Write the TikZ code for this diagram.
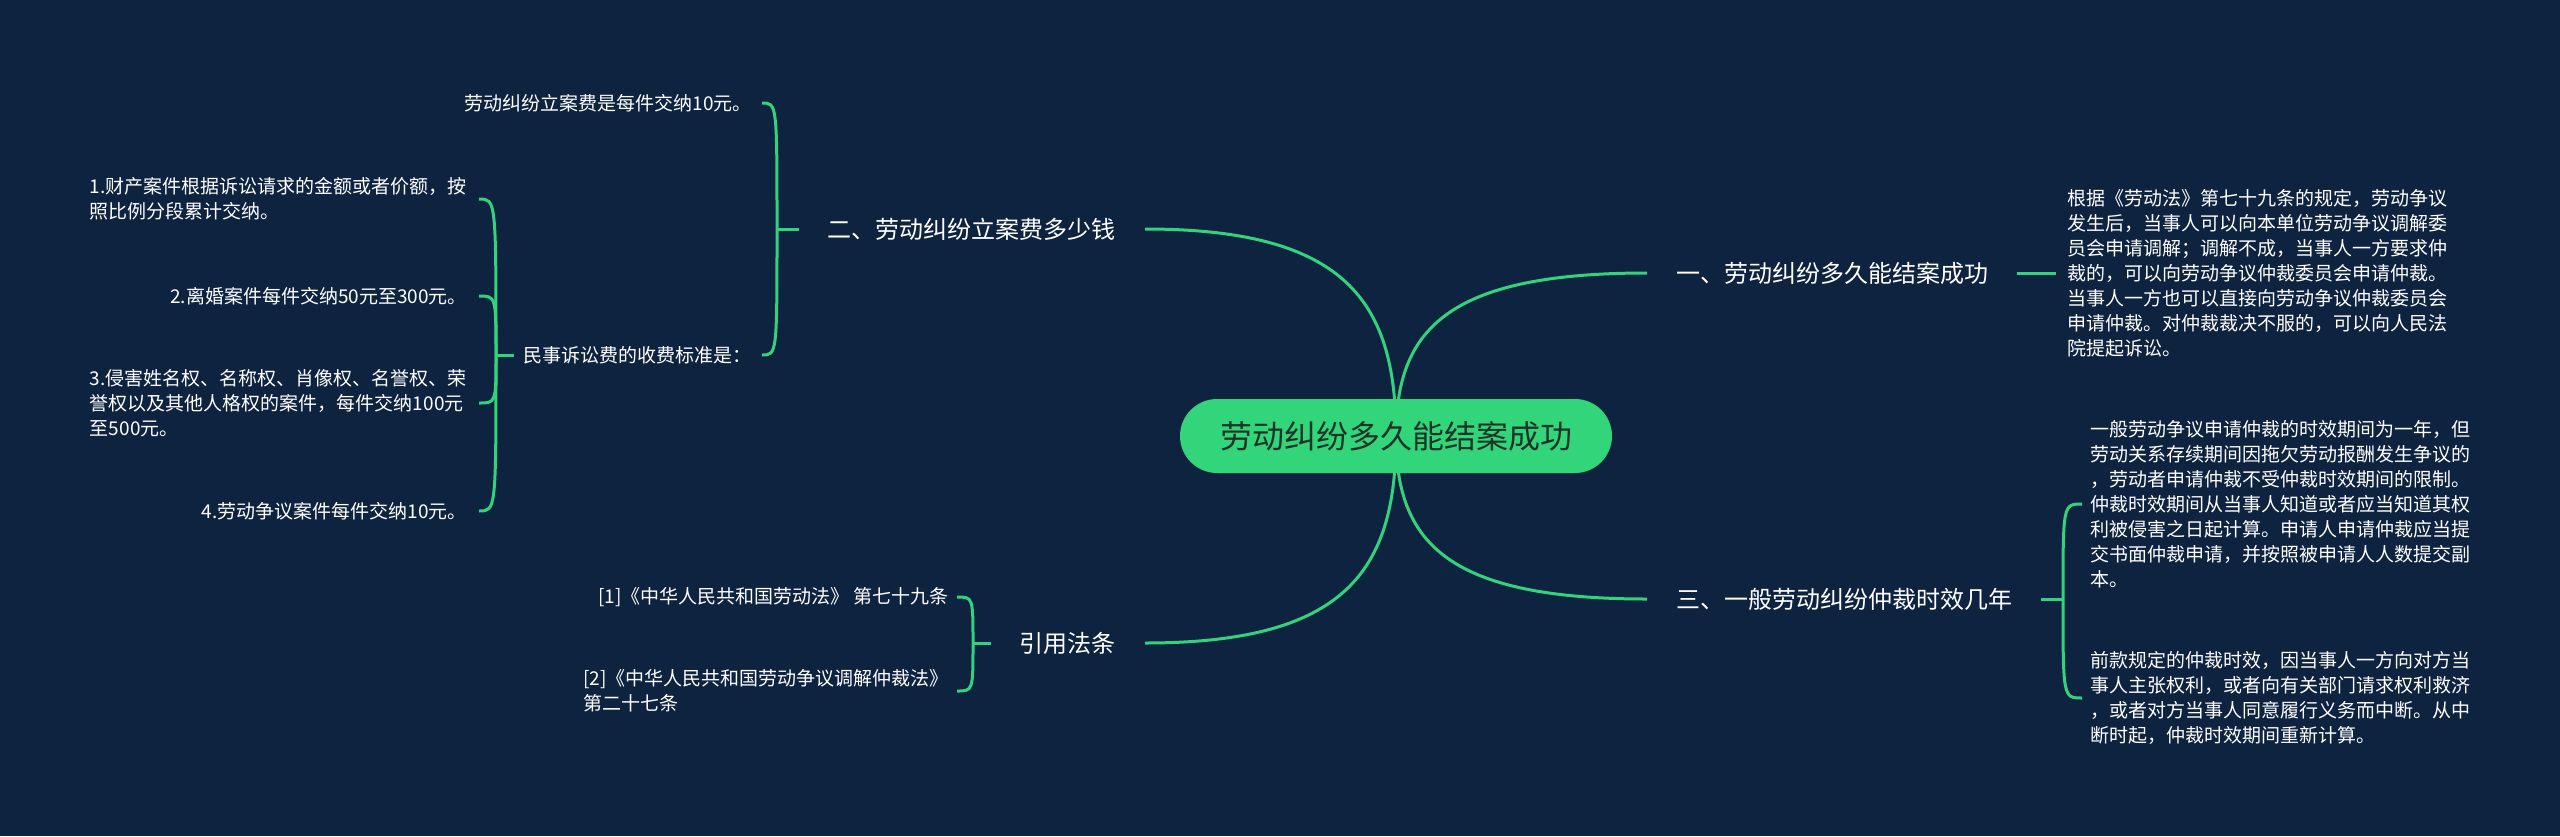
\documentclass[tikz,border=0pt]{standalone}
\usepackage{fontspec}
\setmainfont{Noto Sans CJK SC}
\usetikzlibrary{calc,backgrounds}
\definecolor{bgc}{HTML}{0E2340}
\definecolor{lnc}{HTML}{34D27C}
\definecolor{ctr}{HTML}{33D57A}
\definecolor{ctx}{HTML}{1C3327}
\begin{document}
\begin{tikzpicture}[x=1pt,y=-1pt,
  link/.style={draw=lnc,line width=3pt},
  centre/.style={shape=rectangle,rounded corners=37pt,fill=ctr,text=ctx,minimum width=432pt,minimum height=74pt,inner sep=0pt,font=\fontsize{32pt}{38pt}\selectfont},
  br/.style={font=\fontsize{24pt}{28pt}\selectfont,text=white,inner xsep=29pt,inner ysep=0pt},
  lf/.style={font=\fontsize{19pt}{25pt}\selectfont,text=white,inner ysep=0pt,align=left},
]
\useasboundingbox (0,0) rectangle (2560,836);

% centre
\node[centre] (c) at (1396,436) {劳动纠纷多久能结案成功};

% branches
\node[br,anchor=west] (b1) at (1647,273) {一、劳动纠纷多久能结案成功};
\node[br,anchor=east] (b2) at (1145,229) {二、劳动纠纷立案费多少钱};
\node[br,anchor=west] (b3) at (1647,599) {三、一般劳动纠纷仲裁时效几年};
\node[br,anchor=east] (b4) at (1145,643) {引用法条};

% branch 1 leaf
\node[lf,anchor=west,inner xsep=11pt] (l1) at (2056,273) {根据《劳动法》第七十九条的规定，劳动争议\\发生后，当事人可以向本单位劳动争议调解委\\员会申请调解；调解不成，当事人一方要求仲\\裁的，可以向劳动争议仲裁委员会申请仲裁。\\当事人一方也可以直接向劳动争议仲裁委员会\\申请仲裁。对仲裁裁决不服的，可以向人民法\\院提起诉讼。};

% branch 3 leaves
\coordinate (k3) at (2063,599);
\node[lf,anchor=west,inner xsep=8pt] (l3a) at (2082,504) {一般劳动争议申请仲裁的时效期间为一年，但\\劳动关系存续期间因拖欠劳动报酬发生争议的\\，劳动者申请仲裁不受仲裁时效期间的限制。\\仲裁时效期间从当事人知道或者应当知道其权\\利被侵害之日起计算。申请人申请仲裁应当提\\交书面仲裁申请，并按照被申请人人数提交副\\本。};
\node[lf,anchor=west,inner xsep=8pt] (l3b) at (2082,698) {前款规定的仲裁时效，因当事人一方向对方当\\事人主张权利，或者向有关部门请求权利救济\\，或者对方当事人同意履行义务而中断。从中\\断时起，仲裁时效期间重新计算。};

% branch 2 leaves
\coordinate (k2) at (777,229);
\node[lf,anchor=east,inner xsep=10pt] (m1) at (762,103) {劳动纠纷立案费是每件交纳10元。};
\node[lf,anchor=east,inner xsep=10pt] (m2) at (762,355) {民事诉讼费的收费标准是：};
\coordinate (k5) at (496,355);
\node[lf,anchor=east,inner xsep=12pt] (n1) at (479,199) {1.财产案件根据诉讼请求的金额或者价额，按\\照比例分段累计交纳。};
\node[lf,anchor=east,inner xsep=12pt] (n2) at (479,296) {2.离婚案件每件交纳50元至300元。};
\node[lf,anchor=east,inner xsep=12pt] (n3) at (479,403) {3.侵害姓名权、名称权、肖像权、名誉权、荣\\誉权以及其他人格权的案件，每件交纳100元\\至500元。};
\node[lf,anchor=east,inner xsep=12pt] (n4) at (479,511) {4.劳动争议案件每件交纳10元。};

% branch 4 leaves
\coordinate (k4) at (973,643);
\node[lf,anchor=east,inner xsep=8pt] (r1) at (957,597) {[1]《中华人民共和国劳动法》 第七十九条};
\node[lf,anchor=east,inner xsep=8pt] (r2) at (957,691) {[2]《中华人民共和国劳动争议调解仲裁法》\\第二十七条};

\begin{pgfonlayer}{background}
\fill[bgc] (0,0) rectangle (2560,836);
% main connectors
\draw[link] (c.center) .. controls ($(c.center)!0.65!(c.center |- b1.west)$) and ($(c.center |- b1.west)!0.2!(b1.west)$) .. (b1.west);
\draw[link] (c.center) .. controls ($(c.center)!0.65!(c.center |- b2.east)$) and ($(c.center |- b2.east)!0.2!(b2.east)$) .. (b2.east);
\draw[link] (c.center) .. controls ($(c.center)!0.65!(c.center |- b3.west)$) and ($(c.center |- b3.west)!0.2!(b3.west)$) .. (b3.west);
\draw[link] (c.center) .. controls ($(c.center)!0.65!(c.center |- b4.east)$) and ($(c.center |- b4.east)!0.2!(b4.east)$) .. (b4.east);
% branch 1
\draw[link] (b1.east) -- (l1.west);
% branch 3 bracket
\draw[link] (b3.east) -- (k3);
\draw[link] (k3) .. controls (k3 |- l3a.west) .. (l3a.west);
\draw[link] (k3) .. controls (k3 |- l3b.west) .. (l3b.west);
% branch 2 bracket
\draw[link] (b2.west) -- (k2);
\draw[link] (k2) .. controls (k2 |- m1.east) .. (m1.east);
\draw[link] (k2) .. controls (k2 |- m2.east) .. (m2.east);
\draw[link] (m2.west) -- (k5);
\draw[link] (k5) .. controls (k5 |- n1.east) .. (n1.east);
\draw[link] (k5) .. controls (k5 |- n2.east) .. (n2.east);
\draw[link] (k5) .. controls (k5 |- n3.east) .. (n3.east);
\draw[link] (k5) .. controls (k5 |- n4.east) .. (n4.east);
% branch 4 bracket
\draw[link] (b4.west) -- (k4);
\draw[link] (k4) .. controls (k4 |- r1.east) .. (r1.east);
\draw[link] (k4) .. controls (k4 |- r2.east) .. (r2.east);
\end{pgfonlayer}
\end{tikzpicture}
\end{document}
